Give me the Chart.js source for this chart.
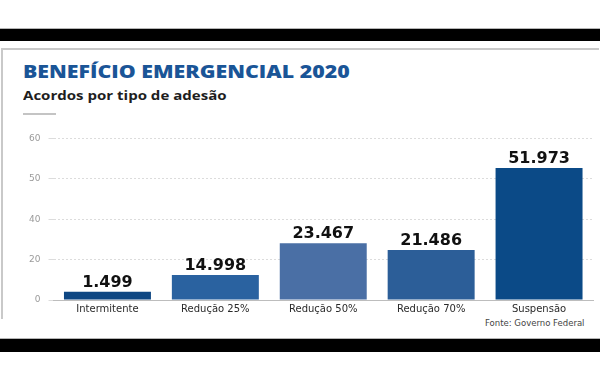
<!DOCTYPE html>
<html>
<head>
<meta charset="utf-8">
<script src="https://cdn.jsdelivr.net/npm/chart.js@4"></script>
<style>
  body { margin: 0; background: #fff; }
  #wrap { position: relative; width: 600px; height: 370px; overflow: hidden; background: #fff; }
  .bar { position: absolute; left: 0; width: 600px; background: #000; }
  #panel { position: absolute; left: 1px; top: 48px; width: 596px; height: 269px;
           border-top: 2px solid #c9c9c9; border-left: 2px solid #c9c9c9; }
  .txt { position: absolute; white-space: nowrap; transform-origin: 0 0; }
  #title { left: 23px; top: 59px; font: 800 18px "Open Sans"; color: #1a5597; }
  #subtitle { left: 23px; top: 88px; font: 700 11.5px "Open Sans"; color: #1e1e1e; }
  #rule { position: absolute; left: 23px; top: 113px; width: 33px; height: 2px; background: #c4c4c4; }
  #source { right: 16px; top: 319px; font: 8px "DejaVu Sans"; color: #444; transform-origin: 100% 0; }
  #chart { position: absolute; left: 0; top: 125px; }
</style>
</head>
<body>
<div id="wrap">
  <div class="bar" style="top:28px;height:1px;background:#b5b5b5"></div>
  <div class="bar" style="top:29px;height:12px"></div>
  <div class="bar" style="top:338px;height:1px;background:#b5b5b5"></div>
  <div class="bar" style="top:339px;height:13px"></div>
  <div id="panel"></div>
  <div class="txt" id="title">BENEFÍCIO EMERGENCIAL 2020</div>
  <div class="txt" id="subtitle">Acordos por tipo de adesão</div>
  <div id="rule"></div>
  <div class="txt" id="source">Fonte: Governo Federal</div>
  <canvas id="chart" width="600" height="195"></canvas>
</div>
<script>
// data (axis is uneven: 0, 20, 40, 50, 60 equally spaced)
const categories = ['Intermitente', 'Redução 25%', 'Redução 50%', 'Redução 70%', 'Suspensão'];
const barValues = [4.1, 12.4, 28.1, 24.8, 52.7];
const valueLabels = ['1.499', '14.998', '23.467', '21.486', '51.973'];
const yTicks = [0, 20, 40, 50, 60];
const barColors = ['#0e4783', '#2a62a0', '#4a6fa5', '#2c5e98', '#0b4a87'];

// stretch text to the widths seen in the picture
function fitWidth(id, w) {
    const el = document.getElementById(id);
    el.style.transform = 'scaleX(' + (w / el.offsetWidth) + ')';
}
fitWidth('title', 327);
fitWidth('subtitle', 204);
fitWidth('source', 99);

// map a value onto the uneven axis (one step per tick)
function toStep(v) {
    for (let i = 0; i < yTicks.length - 1; i++) {
        if (v <= yTicks[i + 1]) {
            return i + (v - yTicks[i]) / (yTicks[i + 1] - yTicks[i]);
        }
    }
    return yTicks.length - 1;
}

const valueLabelPlugin = {
    id: 'valueLabels',
    afterDatasetsDraw(chart) {
        const ctx = chart.ctx;
        const meta = chart.getDatasetMeta(0);
        ctx.save();
        ctx.font = 'bold 16px "DejaVu Sans"';
        ctx.fillStyle = '#111';
        ctx.textAlign = 'center';
        ctx.textBaseline = 'alphabetic';
        meta.data.forEach((bar, i) => {
            ctx.fillText(valueLabels[i], bar.x, bar.y - 5);
        });
        ctx.restore();
    }
};

new Chart(document.getElementById('chart'), {
    type: 'bar',
    data: {
        labels: categories,
        datasets: [{
            data: barValues.map(toStep),
            backgroundColor: barColors,
            barPercentage: 0.806,
            categoryPercentage: 1
        }]
    },
    options: {
        responsive: false,
        animation: false,
        layout: { padding: { top: 13.3, right: 7, left: 0, bottom: 0 } },
        plugins: {
            legend: { display: false },
            tooltip: { enabled: false }
        },
        scales: {
            x: {
                afterFit: (s) => { s.height = 20; },
                grid: { display: false, drawTicks: false },
                border: { display: true, color: '#bdbdbd', width: 1 },
                ticks: {
                    padding: 3,
                    color: '#2a2a2a',
                    font: { family: 'DejaVu Sans', size: 10 }
                }
            },
            y: {
                min: 0,
                max: yTicks.length - 1,
                afterFit: (s) => { s.width = 53.5; },
                grid: { color: '#dcdcdc', lineWidth: 1, tickLength: 5 },
                border: { display: false, dash: [2, 2] },
                ticks: {
                    stepSize: 1,
                    padding: 8,
                    color: '#9a9a9a',
                    font: { family: 'DejaVu Sans', size: 9 },
                    callback: (v) => yTicks[v]
                }
            }
        }
    },
    plugins: [valueLabelPlugin]
});
</script>
</body>
</html>
